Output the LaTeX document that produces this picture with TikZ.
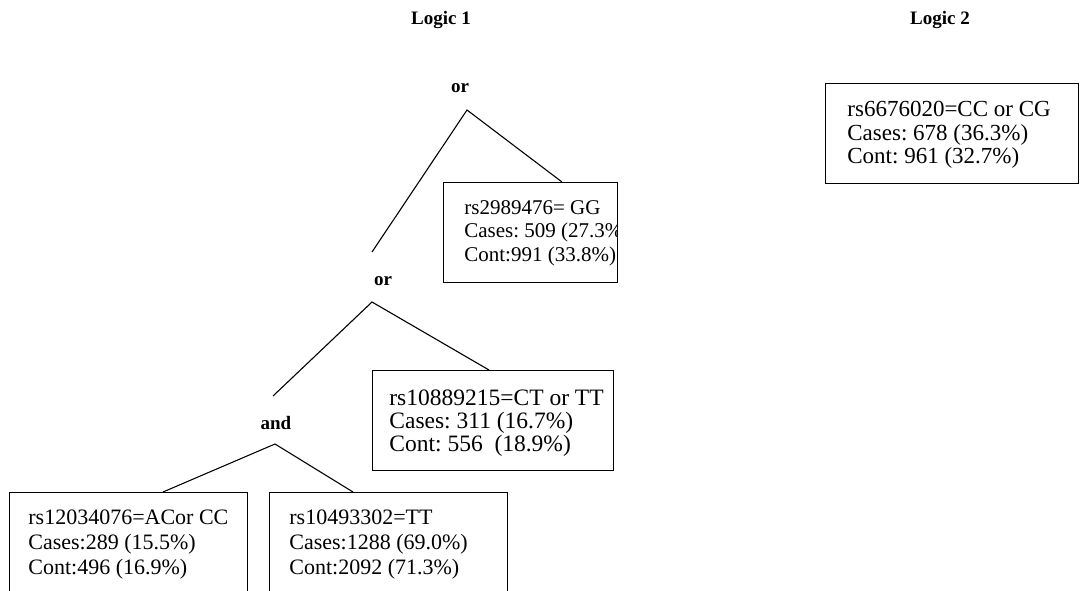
\documentclass[tikz,border=0pt]{standalone}
\usepackage{fontspec}
\setmainfont{Liberation Serif}
\frenchspacing
\begin{document}
\begin{tikzpicture}[x=1pt,y=-1pt,
	hd/.style={font=\fontsize{19}{22}\selectfont\bfseries},
	op/.style={font=\fontsize{19}{22}\selectfont\bfseries,inner sep=0pt},
	lf/.style={draw,line width=1.4pt,anchor=north west,inner sep=0pt,minimum height=100pt},
	tx/.style={anchor=north west,align=left,inner sep=0pt,minimum width=0pt,minimum height=0pt},
	sz/.style 2 args={font=\fontsize{#1}{#2}\selectfont},
	ln/.style={line width=1.1pt}]
	\useasboundingbox (0,0) rectangle (1080,590);
	% titles
	\node[hd] (logA) at (441,20) {Logic 1};
	\node[hd] (logB) at (940,20) {Logic 2};
	% logic 1 tree
	\node[op] (orA) at (460,88) {or};
	\node[op] (orB) at (383,281) {or};
	\node[op] (andA) at (276,423) {and};
	\coordinate (topA) at (467,110);
	\coordinate (topB) at (372,302);
	\coordinate (topC) at (275,444);
	\coordinate (endB) at (372,252);
	\coordinate (endC) at (273,396);
	\node[lf,minimum width=174pt,path picture={\node[tx,sz={21}{23.5}]
		at ([shift={(20pt,-17pt)}]path picture bounding box.north west)
		{rs2989476= GG\\Cases: 509 (27.3\%)\\Cont:991 (33.8\%)};}] (snpA) at (443,182) {};
	\node[lf,minimum width=241pt,path picture={\node[tx,sz={23.5}{23}]
		at ([shift={(16pt,-18pt)}]path picture bounding box.north west)
		{rs10889215=CT or TT\\Cases: 311 (16.7\%)\\Cont: 556~ (18.9\%)};}] (snpB) at (372,370) {};
	\node[lf,minimum width=238pt,path picture={\node[tx,sz={22}{25}]
		at ([shift={(18pt,-16pt)}]path picture bounding box.north west)
		{rs12034076=ACor CC\\Cases:289 (15.5\%)\\Cont:496 (16.9\%)};}] (snpC) at (9,492) {};
	\node[lf,minimum width=238pt,path picture={\node[tx,sz={22}{25}]
		at ([shift={(19pt,-16pt)}]path picture bounding box.north west)
		{rs10493302=TT\\Cases:1288 (69.0\%)\\Cont:2092 (71.3\%)};}] (snpD) at (269,492) {};
	\draw[ln] (endB) -- (topA) -- ([xshift=119pt]snpA.north west);
	\draw[ln] (endC) -- (topB) -- ([xshift=117pt]snpB.north west);
	\draw[ln] ([xshift=154pt]snpC.north west) -- (topC) -- ([xshift=84pt]snpD.north west);
	% logic 2
	\node[lf,minimum width=253pt,path picture={\node[tx,sz={23}{23.5}]
		at ([shift={(21pt,-17pt)}]path picture bounding box.north west)
		{rs6676020=CC or CG\\Cases: 678 (36.3\%)\\Cont: 961 (32.7\%)};}] (snpE) at (825,83) {};
\end{tikzpicture}
\end{document}
